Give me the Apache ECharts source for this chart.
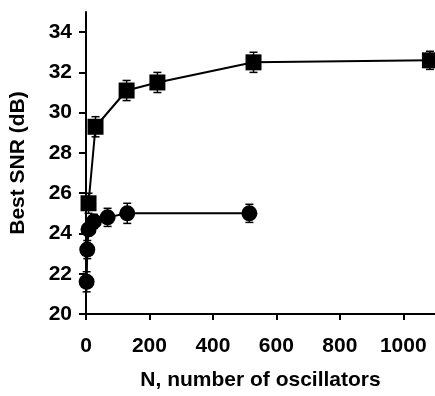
<!DOCTYPE html>
<html>
<head>
<meta charset="utf-8">
<script src="https://cdn.jsdelivr.net/npm/echarts@6/dist/echarts.min.js"></script>
<style>
html,body{margin:0;padding:0;background:#fff;}
#main{width:435px;height:396px;}
</style>
</head>
<body>
<div id="main"></div>
<script>
// values
var squareN = [8, 30, 128, 225, 528, 1084];
var squareSNR = [25.5, 29.3, 31.1, 31.5, 32.5, 32.6];
var squareErr = [0.5, 0.5, 0.5, 0.5, 0.5, 0.45];

var circleN = [2, 4, 8, 25, 68, 130, 515];
var circleSNR = [21.6, 23.2, 24.2, 24.6, 24.8, 25.0, 25.0];
var circleErr = [0.5, 0.45, 0.3, 0.35, 0.45, 0.5, 0.45];

var xTicks = [0, 200, 400, 600, 800, 1000];
var yTicks = [20, 22, 24, 26, 28, 30, 32, 34];

function pairs(xs, ys) {
	var out = [];
	for (var i = 0; i < xs.length; i++) out.push([xs[i], ys[i]]);
	return out;
}
function errRows(xs, ys, es) {
	var out = [];
	for (var i = 0; i < xs.length; i++) out.push([xs[i], ys[i] - es[i], ys[i] + es[i]]);
	return out;
}

function renderErr(params, api) {
	var lo = api.coord([api.value(0), api.value(1)]);
	var hi = api.coord([api.value(0), api.value(2)]);
	var w = 4;
	var st = { stroke: '#000', lineWidth: 1.5 };
	return {
		type: 'group',
		children: [
			{ type: 'line', shape: { x1: lo[0], y1: lo[1], x2: hi[0], y2: hi[1] }, style: st },
			{ type: 'line', shape: { x1: lo[0] - w, y1: lo[1], x2: lo[0] + w, y2: lo[1] }, style: st },
			{ type: 'line', shape: { x1: hi[0] - w, y1: hi[1], x2: hi[0] + w, y2: hi[1] }, style: st }
		]
	};
}

var chart = echarts.init(document.getElementById('main'));
var font = 'Liberation Sans, Arial, sans-serif';

var option = {
	animation: false,
	grid: { left: 85, right: 0, top: 12, bottom: 81, containLabel: false },
	xAxis: {
		type: 'value',
		min: 0, max: 1100, interval: 100,
		name: 'N, number of oscillators',
		nameLocation: 'middle',
		nameGap: 56,
		nameTextStyle: { fontFamily: font, fontWeight: 'bold', fontSize: 21, color: '#000' },
		axisLine: { show: true, onZero: false, lineStyle: { color: '#000', width: 2 } },
		axisTick: { show: true, inside: false, length: 6, customValues: xTicks, lineStyle: { color: '#000', width: 2 } },
		axisLabel: {
			customValues: xTicks, margin: 22, fontFamily: font, fontWeight: 'bold', fontSize: 21, color: '#000',
			formatter: function (v) { return String(v); }
		},
		splitLine: { show: false }
	},
	yAxis: {
		type: 'value',
		min: 20, max: 35, interval: 1,
		name: 'Best SNR (dB)',
		nameLocation: 'middle',
		nameGap: 57,
		nameTextStyle: { fontFamily: font, fontWeight: 'bold', fontSize: 21, color: '#000' },
		axisLine: { show: true, onZero: false, lineStyle: { color: '#000', width: 2 } },
		axisTick: { show: true, inside: false, length: 7, customValues: yTicks, lineStyle: { color: '#000', width: 2 } },
		axisLabel: { customValues: yTicks, margin: 14, fontFamily: font, fontWeight: 'bold', fontSize: 21, color: '#000' },
		splitLine: { show: false }
	},
	series: [
		{
			type: 'custom', renderItem: renderErr, data: errRows(squareN, squareSNR, squareErr),
			clip: false, z: 1, encode: { x: 0, y: [1, 2] }
		},
		{
			type: 'custom', renderItem: renderErr, data: errRows(circleN, circleSNR, circleErr),
			clip: false, z: 1, encode: { x: 0, y: [1, 2] }
		},
		{
			type: 'line', data: pairs(squareN, squareSNR), symbol: 'rect', symbolSize: 16,
			clip: false, z: 3,
			lineStyle: { color: '#000', width: 2 }, itemStyle: { color: '#000' }
		},
		{
			type: 'line', data: pairs(circleN, circleSNR), symbol: 'circle', symbolSize: 16,
			clip: false, z: 3,
			lineStyle: { color: '#000', width: 2 }, itemStyle: { color: '#000' }
		}
	]
};

chart.setOption(option);
</script>
</body>
</html>
